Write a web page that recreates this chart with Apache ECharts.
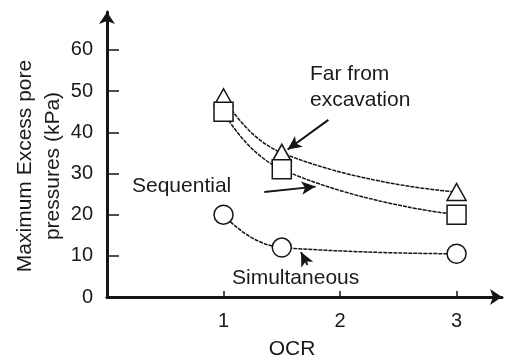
<!DOCTYPE html>
<html>
<head>
<meta charset="utf-8">
<script src="https://cdn.jsdelivr.net/npm/echarts@6/dist/echarts.min.js"></script>
<style>
  html, body { margin: 0; padding: 0; background: #fff; }
  #chart { width: 515px; height: 364px; }
</style>
</head>
<body>
<div id="chart"></div>
<script>
(function (echarts) {
  'use strict';

  // values
  var ocr = [1, 1.5, 3];
  var farFromExcavation = [48.5, 35, 25.5];   // triangles
  var sequential = [45, 31, 20];              // squares
  var simultaneous = [20, 12, 10.5];          // circles

  var yTicks = [0, 10, 20, 30, 40, 50, 60];
  var xTicks = [1, 2, 3];

  // callout arrows, [from, to] in data units
  var calloutArrows = [
    [[1.9, 43], [1.55, 35.8]],
    [[1.35, 25.5], [1.79, 26.8]],
    [[1.72, 7.8], [1.665, 10.9]]
  ];

  var ink = '#151515';
  var font = 'Liberation Sans, Arial, sans-serif';

  function pairs(ys) {
    return ocr.map(function (x, i) { return [x, ys[i]]; });
  }

  function curve(name, ys, symbol, size) {
    return {
      name: name,
      type: 'line',
      data: pairs(ys),
      smooth: 0.5,
      symbol: symbol,
      symbolSize: size,
      showAllSymbol: true,
      lineStyle: { color: ink, width: 1.5, type: [4, 1] },
      itemStyle: { color: '#fff', borderColor: ink, borderWidth: 1.5 },
      emphasis: { disabled: true }
    };
  }

  var series = [
    curve('Far from excavation', farFromExcavation, 'triangle', [19, 17]),
    curve('Sequential', sequential, 'rect', 19),
    curve('Simultaneous', simultaneous, 'circle', 19)
  ];

  series[2].markLine = {
    silent: true,
    symbol: ['none', 'arrow'],
    symbolSize: [10, 14],
    label: { show: false },
    lineStyle: { color: ink, width: 2, type: 'solid' },
    data: calloutArrows.map(function (a) {
      return [{ coord: a[0] }, { coord: a[1] }];
    })
  };

  var textStyle = { fill: '#1a1a1a', fontSize: 21, fontFamily: font };

  var chart = echarts.init(document.getElementById('chart'));
  chart.setOption({
    animation: false,
    backgroundColor: '#fff',
    grid: { left: 107, right: 13, top: 12, bottom: 67 },
    xAxis: {
      type: 'value',
      min: 0,
      max: 3.39,
      splitLine: { show: false },
      axisLine: {
        lineStyle: { color: ink, width: 3 },
        symbol: ['none', 'arrow'],
        symbolSize: [12, 12]
      },
      axisTick: { inside: true, length: 6, customValues: xTicks, lineStyle: { color: ink, width: 1.5 } },
      axisLabel: { customValues: xTicks, margin: 14, color: '#1a1a1a', fontSize: 20, fontFamily: font }
    },
    yAxis: {
      type: 'value',
      min: 0,
      max: 69.2,
      splitLine: { show: false },
      axisLine: {
        lineStyle: { color: ink, width: 3 },
        symbol: ['none', 'arrow'],
        symbolSize: [12, 12]
      },
      axisTick: { inside: true, length: 12, customValues: yTicks, lineStyle: { color: ink, width: 1.5 } },
      axisLabel: { customValues: yTicks, margin: 14, color: '#1a1a1a', fontSize: 20, fontFamily: font }
    },
    graphic: [
      { type: 'text', left: 310, top: 61, style: Object.assign({ text: 'Far from\nexcavation', lineHeight: 26 }, textStyle) },
      { type: 'text', left: 132, top: 176, style: Object.assign({ text: 'Sequential' }, textStyle) },
      { type: 'text', left: 232, top: 268, style: Object.assign({ text: 'Simultaneous' }, textStyle) },
      { type: 'text', x: 292, y: 339, style: Object.assign({ text: 'OCR', align: 'center', verticalAlign: 'top' }, textStyle) },
      {
        type: 'text', x: 39, y: 166, rotation: Math.PI / 2,
        style: Object.assign({ text: 'Maximum Excess pore\npressures (kPa)', align: 'center', verticalAlign: 'middle', lineHeight: 28 }, textStyle)
      }
    ],
    series: series
  });
})(echarts);
</script>
</body>
</html>
